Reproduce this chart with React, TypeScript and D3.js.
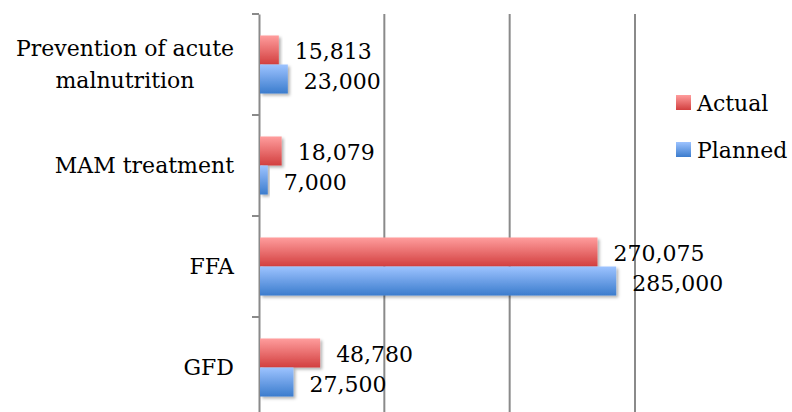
import React, { useEffect, useRef } from 'react';
import * as d3 from 'd3';

const categories = ['Prevention of acute\nmalnutrition', 'MAM treatment', 'FFA', 'GFD'];
const seriesNames = ['Actual', 'Planned'];
const actual = [15813, 18079, 270075, 48780];
const planned = [23000, 7000, 285000, 27500];
const gridTicks = [0, 100000, 200000, 300000];

const colors: Record<string, [string, string]> = {
  Actual: ['#ff9d9d', '#d23f3f'],
  Planned: ['#9dc3ff', '#3b7ccd'],
};

function App() {
  const ref = useRef<SVGSVGElement>(null);

  useEffect(() => {
    const width = 792;
    const height = 412;
    const svg = d3.select(ref.current);
    svg.selectAll('*').remove();
    const font = "'DejaVu Serif', serif";
    const margin = { top: 14, left: 259, right: 157, bottom: -6 };

    const defs = svg.append('defs');
    seriesNames.forEach(s => {
      const g = defs
        .append('linearGradient')
        .attr('id', 'grad-' + s)
        .attr('x1', 0)
        .attr('y1', 0)
        .attr('x2', 0)
        .attr('y2', 1);
      g.append('stop').attr('offset', '0%').attr('stop-color', colors[s][0]);
      g.append('stop').attr('offset', '100%').attr('stop-color', colors[s][1]);
    });
    defs
      .append('filter')
      .attr('id', 'shadow')
      .attr('x', '-10%')
      .attr('y', '-10%')
      .attr('width', '130%')
      .attr('height', '140%')
      .append('feDropShadow')
      .attr('dx', 2)
      .attr('dy', 2)
      .attr('stdDeviation', 1.8)
      .attr('flood-color', '#000')
      .attr('flood-opacity', 0.3);

    const x = d3
      .scaleLinear()
      .domain([0, 300000])
      .range([margin.left, width - margin.right]);

    const y = d3
      .scaleBand()
      .domain(categories)
      .range([margin.top, height - margin.bottom])
      .padding(0);

    const sub = d3
      .scaleBand()
      .domain(seriesNames)
      .range([0, y.bandwidth()])
      .paddingInner(0)
      .paddingOuter(0.74);

    // gridlines
    svg
      .append('g')
      .selectAll('line')
      .data(gridTicks.slice(1))
      .join('line')
      .attr('x1', d => x(d))
      .attr('x2', d => x(d))
      .attr('y1', margin.top)
      .attr('y2', height - margin.bottom)
      .attr('stroke', '#8a8a8a')
      .attr('stroke-width', 2);

    // left axis
    const axis = svg
      .append('g')
      .attr('transform', `translate(${x(0)},0)`)
      .call(
        d3
          .axisLeft(y)
          .tickValues([])
          .tickSizeOuter(0),
      );
    axis.select('.domain').attr('stroke', '#8a8a8a').attr('stroke-width', 2);
    const bounds = categories.map(c => y(c) as number).concat([height - margin.bottom]);
    axis
      .selectAll('line.tk')
      .data(bounds)
      .join('line')
      .attr('class', 'tk')
      .attr('x1', -7)
      .attr('x2', 0)
      .attr('y1', d => d)
      .attr('y2', d => d)
      .attr('stroke', '#8a8a8a')
      .attr('stroke-width', 2);

    const rows = categories.map((c, i) => ({ c, vals: [actual[i], planned[i]] }));

    const groups = svg
      .append('g')
      .selectAll('g')
      .data(rows)
      .join('g')
      .attr('transform', d => `translate(0,${y(d.c)})`);

    groups
      .selectAll('rect')
      .data(d => d.vals.map((v, j) => ({ s: seriesNames[j], v })))
      .join('rect')
      .attr('x', x(0) + 1)
      .attr('y', d => sub(d.s) as number)
      .attr('width', d => x(d.v) - x(0) - 1)
      .attr('height', sub.bandwidth())
      .attr('fill', d => `url(#grad-${d.s})`)
      .attr('filter', 'url(#shadow)');

    groups
      .selectAll('text.val')
      .data(d => d.vals.map((v, j) => ({ s: seriesNames[j], v })))
      .join('text')
      .attr('class', 'val')
      .attr('x', d => x(d.v) + 16)
      .attr('y', d => (sub(d.s) as number) + sub.bandwidth() / 2 + 2)
      .attr('dominant-baseline', 'central')
      .attr('font-family', font)
      .attr('font-size', 22)
      .attr('fill', '#000')
      .text(d => d3.format(',')(d.v));

    // category labels: lines centred on each other, block right-aligned
    const labelRight = 234;
    rows.forEach(r => {
      const lines = r.c.split('\n');
      const cy = (y(r.c) as number) + y.bandwidth() / 2;
      const lh = 32;
      const t = svg
        .append('text')
        .attr('font-family', font)
        .attr('font-size', 22)
        .attr('text-anchor', 'middle')
        .attr('fill', '#000');
      lines.forEach((ln, k) => {
        t.append('tspan')
          .attr('x', 0)
          .attr('y', cy + (k - (lines.length - 1) / 2) * lh)
          .attr('dominant-baseline', 'central')
          .text(ln);
      });
      let w = 0;
      t.selectAll<SVGTSpanElement, unknown>('tspan').each(function () {
        w = Math.max(w, this.getComputedTextLength());
      });
      t.selectAll('tspan').attr('x', labelRight - w / 2);
    });

    // legend
    const legend = svg
      .append('g')
      .selectAll('g')
      .data(seriesNames)
      .join('g')
      .attr('transform', (d, i) => `translate(676,${95 + i * 47})`);
    legend
      .append('rect')
      .attr('width', 15)
      .attr('height', 15)
      .attr('fill', d => `url(#grad-${d})`);
    legend
      .append('text')
      .attr('x', 21)
      .attr('y', 8)
      .attr('dominant-baseline', 'central')
      .attr('font-family', font)
      .attr('font-size', 22)
      .text(d => d);
  }, []);

  return (
    <svg
      ref={ref}
      width={792}
      height={412}
      style={{ position: 'absolute', left: 0, top: 0, background: '#fff' }}
    />
  );
}

export default App;
